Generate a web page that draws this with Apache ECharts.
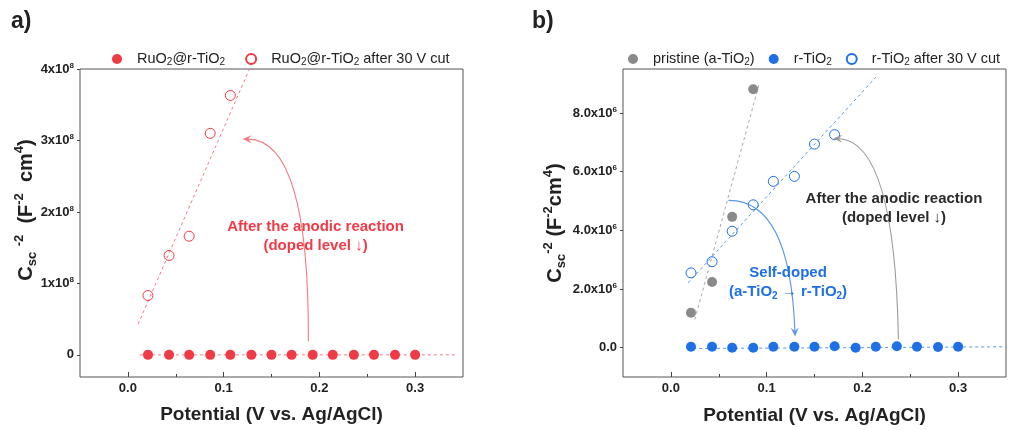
<!DOCTYPE html>
<html><head><meta charset="utf-8">
<script src="https://cdn.jsdelivr.net/npm/echarts@6/dist/echarts.min.js"></script>
<style>html,body{margin:0;padding:0;background:#fff}#c{width:1012px;height:430px}</style>
</head><body><div id="c"></div>
<script>
// ---------- data ----------
const potential = [0.021,0.043,0.064,0.086,0.107,0.129,0.150,0.171,0.193,0.214,0.236,0.257,0.279,0.300];
const ruo2 = [0,0,0,0,0,0,0,0,0,0,0,0,0,0];
const ruo2CutX = [0.021,0.043,0.064,0.086,0.107];
const ruo2Cut = [0.83e8,1.39e8,1.66e8,3.10e8,3.63e8];
const ruo2CutFit = [[0.0107,0.43e8],[0.127,4.0e8]];
const ruo2Fit = [[0.0125,0],[0.342,0]];

const pristineX = [0.021,0.043,0.064,0.086];
const pristine = [1.19e6,2.24e6,4.46e6,8.81e6];
const rTiO2 = [0.03e6,0.03e6,0,0,0.03e6,0.03e6,0.03e6,0.05e6,0,0.03e6,0.05e6,0.03e6,0.02e6,0.03e6];
const rTiO2CutX = [0.021,0.043,0.064,0.086,0.107,0.129,0.150,0.171];
const rTiO2Cut = [2.55e6,2.93e6,3.97e6,4.87e6,5.67e6,5.84e6,6.94e6,7.26e6];
const pristineFit = [[0.025,0.96e6],[0.0925,9.03e6]];
const rTiO2CutFit = [[0.018,2.21e6],[0.214,9.22e6]];
const rTiO2Fit = [[0.017,-0.03e6],[0.35,0.03e6]];

const xTicks = [0,0.1,0.2,0.3];
const xMinorTicks = [0.05,0.15,0.25];
const yTicksA = [0,1e8,2e8,3e8,4e8];
const yTicksB = [0,2e6,4e6,6e6,8e6];

// annotations in data space: [start, control, end]
const arrowA = [[0.1885,0.19e8],[0.1896,3.01e8],[0.1198,3.02e8]];
const arrowBblue = [[0.0601,5.02e6],[0.1245,5.04e6],[0.1297,0.38e6]];
const arrowBgrey = [[0.2376,0.28e6],[0.2341,7.02e6],[0.1697,7.14e6]];
const textA = [0.196,1.66e8];
const textBgrey = [0.233,4.76e6];
const textBblue = [0.1224,2.24e6];

// ---------- style ----------
const FF = '"Liberation Sans", Arial, sans-serif';
const RED = '#ef3b45', RED_L = '#f27a80';
const BLUE = '#1f6fe5', BLUE_L = '#5b97e8';
const GREY = '#8a8a8a', GREY_L = '#a8a8a8';
const INK = '#222';

const zip = (xs, ys) => xs.map((x,i)=>[x,ys[i]]);

function xAxes(g){
  return [{
    type:'value', gridIndex:g, min:-0.05, max:0.35, position:'bottom',
    axisLine:{show:false, onZero:false}, splitLine:{show:false},
    axisTick:{show:true, inside:true, length:5, customValues:xTicks, lineStyle:{color:'#444'}},
    axisLabel:{customValues:xTicks, formatter:v=>v.toFixed(1), fontFamily:FF, fontWeight:'bold', fontSize:13, color:INK, margin:5}
  },{
    type:'value', gridIndex:g, min:-0.05, max:0.35, position:'bottom',
    axisLine:{show:false, onZero:false}, splitLine:{show:false},
    axisTick:{show:true, inside:true, length:3, customValues:xMinorTicks, lineStyle:{color:'#444'}},
    axisLabel:{show:false}
  }];
}
const supRich = {sup:{fontSize:8, fontWeight:'bold', fontFamily:FF, color:INK, verticalAlign:'top', lineHeight:9}};

function yAxis(g, min, max, ticks, fmt){
  return {
    type:'value', gridIndex:g, min:min, max:max, position:'left',
    axisLine:{show:false, onZero:false}, splitLine:{show:false},
    axisTick:{show:true, inside:false, length:3, customValues:ticks, lineStyle:{color:'#444'}},
    axisLabel:{customValues:ticks, formatter:fmt, fontFamily:FF, fontWeight:'bold', fontSize:13, color:INK, margin:6, lineHeight:15, rich:supRich}
  };
}

function scatter(name, xi, yi, data, color, open, size){
  return {
    type:'scatter', name:name, xAxisIndex:xi, yAxisIndex:yi, data:data,
    symbol:'circle', symbolSize:size||10, z:5,
    itemStyle: open ? {color:'rgba(255,255,255,0)', borderColor:color, borderWidth:1, opacity:1} : {color:color, opacity:1},
    emphasis:{disabled:true}
  };
}
function fit(xi, yi, data, color){
  return {
    type:'line', xAxisIndex:xi, yAxisIndex:yi, data:data, symbol:'none', z:3,
    lineStyle:{color:color, width:1, type:[3,3]}, silent:true, legendHoverLink:false
  };
}

const legendRich = {sub:{fontSize:10, fontFamily:FF, color:INK, verticalAlign:'bottom', lineHeight:10}};
const legendFmt = n => n.replace(/O2/g,'O{sub|2}');
function legend(left, gap, names){
  return {
    left:left, top:46, itemWidth:30, itemHeight:10, itemGap:gap, selectedMode:false,
    data:names.map(n=>({name:n, icon:'circle'})),
    formatter:legendFmt,
    textStyle:{fontFamily:FF, fontSize:14.5, color:INK, lineHeight:16, rich:legendRich}
  };
}

const chart = echarts.init(document.getElementById('c'), null, {renderer:'canvas'});
const option = {
  animation:false,
  backgroundColor:'#fff',
  grid:[
    {left:80, top:69, width:383, height:308, show:true, borderColor:'#555', borderWidth:1, backgroundColor:'transparent'},
    {left:623, top:69, width:383, height:308, show:true, borderColor:'#555', borderWidth:1, backgroundColor:'transparent'}
  ],
  xAxis:[...xAxes(0), ...xAxes(1)],
  yAxis:[
    yAxis(0, -0.31e8, 4e8, yTicksA, v => v===0 ? '0' : (v/1e8)+'x10{sup|8}'),
    yAxis(1, -1e6, 9.5e6, yTicksB, v => v===0 ? '0.0' : (v/1e6).toFixed(1)+'x10{sup|6}')
  ],
  legend:[
    legend(107, 20, ['RuO2@r-TiO2','RuO2@r-TiO2 after 30 V cut']),
    legend(623, 14, ['pristine (a-TiO2)','r-TiO2','r-TiO2 after 30 V cut'])
  ],
  series:[
    fit(0,0,ruo2CutFit,RED_L),
    fit(0,0,ruo2Fit,RED_L),
    scatter('RuO2@r-TiO2',0,0,zip(potential,ruo2),RED,false,10),
    scatter('RuO2@r-TiO2 after 30 V cut',0,0,zip(ruo2CutX,ruo2Cut),RED,true,10),
    fit(2,1,pristineFit,GREY_L),
    fit(2,1,rTiO2CutFit,BLUE_L),
    fit(2,1,rTiO2Fit,BLUE_L),
    scatter('pristine (a-TiO2)',2,1,zip(pristineX,pristine),GREY,false,10),
    scatter('r-TiO2',2,1,zip(potential,rTiO2),BLUE,false,10),
    scatter('r-TiO2 after 30 V cut',2,1,zip(rTiO2CutX,rTiO2Cut),BLUE,true,10)
  ]
};
chart.setOption(option);

// ---------- annotations (positioned through the chart's scales) ----------
function px(g, p){ return chart.convertToPixel({gridIndex:g}, p); }
function arrow(g, pts, color){
  const p1 = px(g,pts[0]), cp = px(g,pts[1]), p2 = px(g,pts[2]);
  const dx = p2[0]-cp[0], dy = p2[1]-cp[1], L = Math.hypot(dx,dy), ux = dx/L, uy = dy/L;
  const len = 9, w = 4, nx = -uy, ny = ux;
  const bx = p2[0]-ux*len, by = p2[1]-uy*len;
  const mx = p2[0]-ux*len*0.6, my = p2[1]-uy*len*0.6;
  return [
    {type:'bezierCurve', z:10, shape:{x1:p1[0],y1:p1[1],x2:mx,y2:my,cpx1:cp[0],cpy1:cp[1]},
     style:{stroke:color, lineWidth:1.1, fill:null}},
    {type:'polygon', z:10, shape:{points:[[p2[0],p2[1]],[bx+nx*w,by+ny*w],[mx,my],[bx-nx*w,by-ny*w]]},
     style:{fill:color, stroke:null}}
  ];
}
const titleRich = {
  sub:{fontSize:13, fontWeight:'bold', fontFamily:FF, fill:INK, verticalAlign:'bottom', lineHeight:14},
  sup:{fontSize:13, fontWeight:'bold', fontFamily:FF, fill:INK, verticalAlign:'top', lineHeight:13}
};
function ytitle(x, y, txt){
  return {type:'text', x:x, y:y, rotation:Math.PI/2, z:10,
    style:{text:txt, fontFamily:FF, fontWeight:'bold', fontSize:20, fill:INK, align:'center', verticalAlign:'middle', lineHeight:26, rich:titleRich}};
}
function xtitle(x, y){
  return {type:'text', x:x, y:y, z:10,
    style:{text:'Potential (V vs. Ag/AgCl)', fontFamily:FF, fontWeight:'bold', fontSize:19, fill:INK, align:'center', verticalAlign:'middle'}};
}
function note(g, p, txt, color, rich){
  const q = px(g,p);
  return {type:'text', x:q[0], y:q[1], z:10,
    style:{text:txt, fontFamily:FF, fontWeight:'bold', fontSize:15, fill:color, align:'center', verticalAlign:'middle', lineHeight:19, rich:rich||{}}};
}
const blueRich = {
  t:{fontSize:15, fontWeight:'bold', fontFamily:FF, fill:BLUE, lineHeight:19},
  sub:{fontSize:10, fontWeight:'bold', fontFamily:FF, fill:BLUE, verticalAlign:'bottom', lineHeight:12}
};

chart.setOption({graphic:[
  {type:'text', x:11, y:22, style:{text:'a)', fontFamily:FF, fontWeight:'bold', fontSize:23, fill:INK, align:'left', verticalAlign:'middle'}},
  {type:'text', x:532, y:22, style:{text:'b)', fontFamily:FF, fontWeight:'bold', fontSize:23, fill:INK, align:'left', verticalAlign:'middle'}},
  ytitle(26, 210, 'C{sub|sc} {sup|-2}  (F{sup|-2}  cm{sup|4})'),
  ytitle(555, 223, 'C{sub|sc}{sup|-2} (F{sup|-2}cm{sup|4})'),
  xtitle(271.5, 415),
  xtitle(814.5, 416),
  ...arrow(0, arrowA, RED_L),
  ...arrow(1, arrowBblue, BLUE_L),
  ...arrow(1, arrowBgrey, '#9a9a9a'),
  note(0, textA, 'After the anodic reaction\n(doped level \u2193)', RED),
  note(1, textBgrey, 'After the anodic reaction\n(doped level \u2193)', '#2a2a2a'),
  note(1, textBblue, '{t|Self-doped}\n{t|(a-TiO}{sub|2}{t| \u2192 r-TiO}{sub|2}{t|)}', BLUE, blueRich)
]});
</script>
</body></html>
